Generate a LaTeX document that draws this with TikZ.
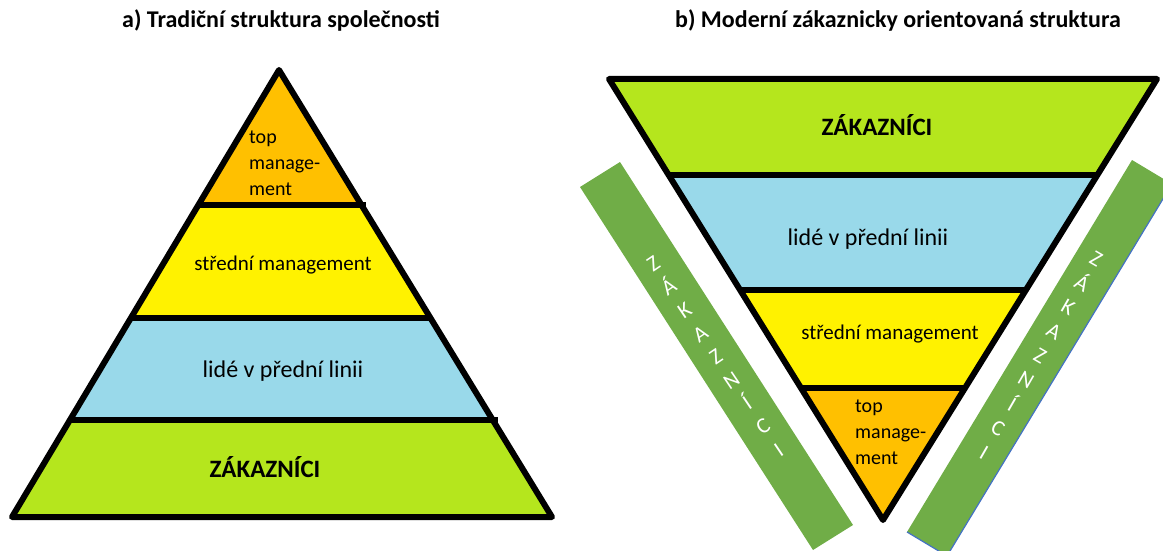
\documentclass[tikz,border=0pt]{standalone}
\usepackage{fontspec}
\setmainfont{Carlito}
\usetikzlibrary{calc}

\definecolor{topcol}{RGB}{255,192,0}
\definecolor{midcol}{RGB}{255,242,0}
\definecolor{frontcol}{RGB}{153,217,234}
\definecolor{custcol}{RGB}{181,230,29}
\definecolor{barcol}{RGB}{112,173,71}
\definecolor{edgecol}{RGB}{68,114,196}

\begin{document}
\begin{tikzpicture}[x=1pt,y=-1pt,
  band/.style={line width=6pt,line join=round},
  level/.style={font=\fontsize{21}{25}\selectfont,inner sep=0pt},
  top level/.style={font=\fontsize{20}{26}\selectfont,align=left,anchor=west,inner sep=0pt},
  big level/.style={font=\fontsize{24}{25}\selectfont,inner sep=0pt},
  cust level/.style={font=\fontsize{25}{25}\selectfont\bfseries,inner sep=0pt},
  title/.style={font=\fontsize{24}{24}\selectfont\bfseries,inner sep=0pt},
  stack/.style={text=white,font=\fontsize{22}{28}\selectfont,align=center,inner sep=0pt}]

  \useasboundingbox (0,0) rectangle (1163,551);
  \clip (0,0) rectangle (1163,551);

  % a) traditional pyramid
  \coordinate (a top) at (279,70);
  \coordinate (a left) at (12,517);
  \coordinate (a right) at (552,517);
  \coordinate (a l1) at ($(a top)!0.302!(a left)$);
  \coordinate (a r1) at ($(a top)!0.302!(a right)$);
  \coordinate (a l2) at ($(a top)!0.5548!(a left)$);
  \coordinate (a r2) at ($(a top)!0.5548!(a right)$);
  \coordinate (a l3) at ($(a top)!0.783!(a left)$);
  \coordinate (a r3) at ($(a top)!0.783!(a right)$);

  \fill[topcol] (a top) -- (a l1) -- (a r1) -- cycle;
  \fill[midcol] (a l1) -- (a l2) -- (a r2) -- (a r1) -- cycle;
  \fill[frontcol] (a l2) -- (a l3) -- (a r3) -- (a r2) -- cycle;
  \fill[custcol] (a l3) -- (a left) -- (a right) -- (a r3) -- cycle;
  \draw[band] (a top) -- (a left) -- (a right) -- cycle;
  \draw[band] (a l1) -- ($(a r1)+(5,0)$);
  \draw[band] (a l2) -- (a r2);
  \draw[band] (a l3) -- ($(a r3)+(5,0)$);

  \node[title] (a title) at (281,20) {a) Tradiční struktura společnosti};
  \node[top level] (a tm) at (249,163) {top\\manage-\\ment};
  \node[level] (a mm) at (283,265) {střední management};
  \node[big level] (a fl) at (283,371) {lidé v přední linii};
  \node[cust level] (a cu) at (265,467) {ZÁKAZNÍCI};

  % b) customer oriented structure
  \coordinate (b left) at (609,79);
  \coordinate (b right) at (1157,79);
  \coordinate (b tip) at (883,520);
  \coordinate (b l1) at ($(b left)!0.2177!(b tip)$);
  \coordinate (b r1) at ($(b right)!0.2177!(b tip)$);
  \coordinate (b l2) at ($(b left)!0.4785!(b tip)$);
  \coordinate (b r2) at ($(b right)!0.4785!(b tip)$);
  \coordinate (b l3) at ($(b left)!0.7007!(b tip)$);
  \coordinate (b r3) at ($(b right)!0.7007!(b tip)$);

  \fill[custcol] (b left) -- (b l1) -- (b r1) -- (b right) -- cycle;
  \fill[frontcol] (b l1) -- (b l2) -- (b r2) -- (b r1) -- cycle;
  \fill[midcol] (b l2) -- (b l3) -- (b r3) -- (b r2) -- cycle;
  \fill[topcol] (b l3) -- (b tip) -- (b r3) -- cycle;
  \draw[band] (b left) -- (b right) -- (b tip) -- cycle;
  \draw[band] (b l1) -- (b r1);
  \draw[band] (b l2) -- (b r2);
  \draw[band] (b l3) -- (b r3);

  \node[title] (b title) at (898,20) {b) Moderní zákaznicky orientovaná struktura};
  \node[cust level] (b cu) at (877,125) {ZÁKAZNÍCI};
  \node[big level] (b fl) at (868,239) {lidé v přední linii};
  \node[level] (b mm) at (890,334) {střední management};
  \node[top level] (b tm) at (855,432) {top\\manage-\\ment};

  % customer bars
  \coordinate (p tl) at (580,187);
  \coordinate (p tr) at (620,162);
  \coordinate (p br) at (853,525);
  \coordinate (p bl) at (813,550);
  \fill[barcol] (p tl) -- (p tr) -- (p br) -- (p bl) -- cycle;
  \node[stack,rotate=34] (p text) at (716,357) {Z\\Á\\K\\A\\Z\\N\\Í\\C\\I};

  \coordinate (q bl) at (907,532);
  \coordinate (q br) at (947,556);
  \coordinate (q tr) at (1172,184);
  \coordinate (q tl) at (1132,160);
  \fill[barcol] (q bl) -- (q br) -- (q tr) -- (q tl) -- cycle;
  \draw[edgecol,line width=1.2pt] (q bl) -- (q br) -- (q tr);
  \node[stack,rotate=-30] (q text) at (1040,356) {Z\\Á\\K\\A\\Z\\N\\Í\\C\\I};
\end{tikzpicture}
\end{document}
